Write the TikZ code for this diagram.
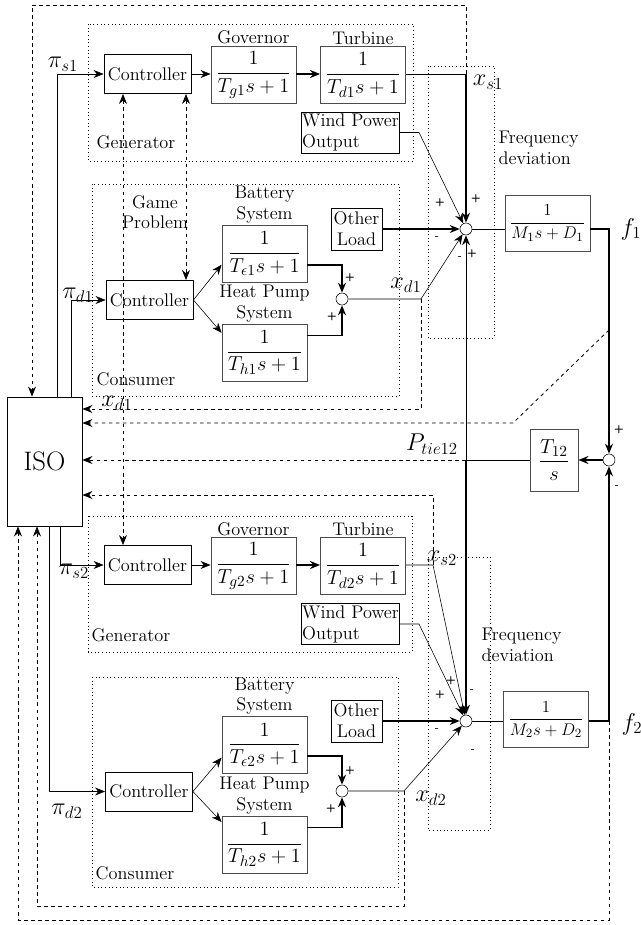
\documentclass[tikz,border=0pt]{standalone}
\usepackage{amsmath,amssymb}
\usepackage{tikz}
\usetikzlibrary{positioning,arrows.meta}

\begin{document}
\begin{tikzpicture}[
  x=0.025cm, y=-0.025cm,
  ctrl/.style={rectangle, draw, semithick, minimum width=2.175cm, minimum height=0.975cm, inner sep=0pt, font=\fontsize{13}{15}\selectfont},
  tf/.style={rectangle, draw=black!70, semithick, minimum width=2.125cm, minimum height=1.425cm, inner sep=0pt, font=\fontsize{15}{18}\selectfont},
  blk/.style={rectangle, draw, semithick, align=center, inner sep=0.5pt, font=\fontsize{13}{15}\selectfont},
  heading/.style={align=center, inner sep=1pt, font=\fontsize{13}{14.5}\selectfont},
  sumc/.style={circle, draw, minimum size=0.3cm, inner sep=0pt},
  region/.style={draw, dotted, semithick},
  sig/.style={font=\footnotesize\sffamily\bfseries, inner sep=0pt},
  lbl/.style={font=\LARGE, inner sep=0pt},
  line/.style={draw, -{Stealth[length=2.5mm, width=2mm]}},
  bline/.style={line, line width=1.2pt},
  info/.style={draw, dash pattern=on 2.5pt off 2.5pt, semithick, -{Stealth[length=2.5mm, width=2mm]}},
  game/.style={info, {Stealth[length=2.5mm, width=2mm]}-{Stealth[length=2.5mm, width=2mm]}}
]
\useasboundingbox (0,0) rectangle (640,925);

  % Regions
  \draw[region] (88,24) rectangle (413,161);
  \draw[region] (92,184) rectangle (399,396);
  \draw[region] (88,516) rectangle (412,652);
  \draw[region] (92,677) rectangle (398,887);
  \draw[region] (428,66) rectangle (494,338);
  \draw[region] (428,557) rectangle (490,830);

  % Area 1
  \node[ctrl] (cs1) at (147.5,74) {Controller};
  \node[tf] (gov1) at (253.5,75) {$\dfrac{1}{T_{g1}s+1}$};
  \node[heading, above=0pt of gov1] (gov1t) {Governor};
  \node[tf] (tur1) at (363,75) {$\dfrac{1}{T_{d1}s+1}$};
  \node[heading, above=0pt of tur1] (tur1t) {Turbine};
  \node[blk, align=left, minimum width=2.425cm, minimum height=1.025cm] (wind1) at (350.5,132.5) {Wind Power\\Output};
  \node[heading, anchor=west] (gen1t) at (95,142) {Generator};

  \node[ctrl] (cd1) at (149.5,300) {Controller};
  \node[tf] (bat1) at (264.5,253.5) {$\dfrac{1}{T_{\epsilon1}s+1}$};
  \node[heading, above=0pt of bat1] (bat1t) {Battery\\System};
  \node[tf] (hp1) at (264.5,352.5) {$\dfrac{1}{T_{h1}s+1}$};
  \node[heading, above=0pt of hp1] (hp1t) {Heat Pump\\System};
  \node[sumc] (sd1) at (342,299) {};
  \node[heading, anchor=west] (con1t) at (95,379) {Consumer};
  \node[heading] (gamet) at (155,212) {Game\\Problem};

  \node[blk, minimum width=1.275cm, minimum height=1.05cm] (load1) at (356.5,229) {Other\\Load};
  \node[sumc] (sum1) at (466,229) {};
  \node[tf, font=\fontsize{13}{16}\selectfont, minimum height=1.4cm] (m1) at (547.5,223) {$\dfrac{1}{M_1s+D_1}$};
  \node[heading, align=left, anchor=west] (fd1t) at (497,148) {Frequency\\deviation};

  % Tie line and ISO
  \node[sumc] (sum3) at (609,460) {};
  \node[tf, minimum width=1.2cm, minimum height=1.55cm] (t12) at (554,460) {$\dfrac{T_{12}}{s}$};
  \node[rectangle, draw, semithick, minimum width=1.875cm, minimum height=3.225cm, font=\fontsize{19}{22}\selectfont] (iso) at (44.5,461.5) {ISO};

  % Area 2
  \node[ctrl] (cs2) at (147.5,565) {Controller};
  \node[tf] (gov2) at (253.5,566) {$\dfrac{1}{T_{g2}s+1}$};
  \node[heading, above=0pt of gov2] (gov2t) {Governor};
  \node[tf] (tur2) at (363,566) {$\dfrac{1}{T_{d2}s+1}$};
  \node[heading, above=0pt of tur2] (tur2t) {Turbine};
  \node[blk, align=left, minimum width=2.425cm, minimum height=1.025cm] (wind2) at (350.5,624) {Wind Power\\Output};
  \node[heading, anchor=west] (gen2t) at (90,635) {Generator};

  \node[ctrl] (cd2) at (149,791.5) {Controller};
  \node[tf] (bat2) at (264.5,745) {$\dfrac{1}{T_{\epsilon2}s+1}$};
  \node[heading, above=0pt of bat2] (bat2t) {Battery\\System};
  \node[tf] (hp2) at (264.5,844.5) {$\dfrac{1}{T_{h2}s+1}$};
  \node[heading, above=0pt of hp2] (hp2t) {Heat Pump\\System};
  \node[sumc] (sd2) at (342,791) {};
  \node[heading, anchor=west] (con2t) at (94,873) {Consumer};

  \node[blk, minimum width=1.275cm, minimum height=1.05cm] (load2) at (356.5,721) {Other\\Load};
  \node[sumc] (sum2) at (466,721) {};
  \node[tf, font=\fontsize{13}{16}\selectfont, minimum height=1.4cm] (m2) at (546,719.5) {$\dfrac{1}{M_2s+D_2}$};
  \node[heading, align=left, anchor=west] (fd2t) at (480,645) {Frequency\\deviation};

  % Signal labels
  \node[lbl] (xs1l) at (488,82) {$x_{s1}$};
  \node[lbl] (xd1l) at (406,285) {$x_{d1}$};
  \node[lbl] (xd1m) at (117,403) {$x_{d1}$};
  \node[lbl] (xs2l) at (442,558) {$x_{s2}$};
  \node[lbl] (xd2l) at (431,798) {$x_{d2}$};
  \node[lbl] (ps1l) at (63,64) {$\pi_{s1}$};
  \node[lbl] (pd1l) at (78,295) {$\pi_{d1}$};
  \node[lbl] (ps2l) at (74,571) {$\pi_{s2}$};
  \node[lbl] (pd2l) at (67,811) {$\pi_{d2}$};
  \node[lbl] (ptl) at (432,444) {$P_{tie12}$};
  \node[lbl] (f1l) at (631,229) {$f_1$};
  \node[lbl] (f2l) at (632,724) {$f_2$};

  % Signs
  \node[sig] (g1a) at (440,203) {+};
  \node[sig] (g1b) at (476,199) {+};
  \node[sig] (g1c) at (437,238) {-};
  \node[sig] (g1d) at (460,258) {-};
  \node[sig] (g1e) at (472,254) {+};
  \node[sig] (g1f) at (350,278) {+};
  \node[sig] (g1g) at (332,317) {+};
  \node[sig] (g3a) at (619,430) {+};
  \node[sig] (g3b) at (617,487) {-};
  \node[sig] (g2a) at (440,695) {+};
  \node[sig] (g2b) at (451,681) {+};
  \node[sig] (g2c) at (472,691) {-};
  \node[sig] (g2d) at (437,730) {-};
  \node[sig] (g2e) at (473,751) {-};
  \node[sig] (g2f) at (350,771) {+};
  \node[sig] (g2g) at (331,809) {+};

  % Corner points
  \coordinate (w1) at (419,132.5);
  \coordinate (xd1) at (421,299);
  \coordinate (d1b) at (421,409);
  \coordinate (top) at (32,5);
  \coordinate (tie) at (t12.west -| sum1);
  \coordinate (f1t) at (609,330);
  \coordinate (f1d) at (513,423);
  \coordinate (xs2) at (433,565);
  \coordinate (s2b) at (433,495);
  \coordinate (w2) at (419,624);
  \coordinate (xd2) at (404,791);
  \coordinate (d2b) at (404,906);
  \coordinate (bot2) at (37,906);
  \coordinate (f2) at (sum3 |- sum2);
  \coordinate (bot1) at (18,920);
  \coordinate (ps1) at (57,397);
  \coordinate (pd1) at (71,397);
  \coordinate (ps2) at (60,526);
  \coordinate (pd2) at (49,526);
  \coordinate (ga) at (123,0);
  \coordinate (gb) at (186,0);

  % Arrows, area 1
  \path[line] (cs1.east) -- (cs1.east -| gov1.west);
  \path[bline] (cs1.east -| gov1.east) -- (cs1.east -| tur1.west);
  \draw (cs1.east -| tur1.east) -- (cs1.east -| sum1);
  \path[bline] (cs1.east -| sum1) -- (sum1.north);
  \path[line] (wind1.east) -- (w1) -- (sum1);
  \path[bline] (load1) -- (sum1);
  \path[line] (cd1.east) -- ([yshift=-8pt]bat1.west);
  \path[line] (cd1.east) -- ([yshift=14pt]hp1.west);
  \path[bline] ([yshift=-8pt]bat1.east) -| (sd1.north);
  \path[bline] ([yshift=12pt]hp1.east) -| (sd1.south);
  \path[line] (sd1.east) -- (xd1) -- (sum1);
  \draw (sum1.east) -- (sum1 -| m1.west);

  % Arrows, tie line
  \path[bline] (sum1 -| m1.east) -| (sum3.north);
  \path[bline] (sum2 -| m2.east) -| (sum3.south);
  \path[bline] (sum3.west) -- (t12.east);
  \draw (t12.west) -- (tie);
  \path[line, semithick] (tie) -- (sum1.south);
  \path[bline] (tie) -- (sum2.north);

  % Arrows, area 2
  \path[line] (cs2.east) -- (cs2.east -| gov2.west);
  \path[bline] (cs2.east -| gov2.east) -- (cs2.east -| tur2.west);
  \path[line] (cs2.east -| tur2.east) -- (xs2) -- (sum2);
  \path[line] (wind2.east) -- (w2) -- (sum2);
  \path[bline] (load2) -- (sum2);
  \path[line] (cd2.east) -- ([yshift=-9pt]bat2.west);
  \path[line] (cd2.east) -- ([yshift=16pt]hp2.west);
  \path[bline] ([yshift=-8pt]bat2.east) -| (sd2.north);
  \path[bline] ([yshift=12pt]hp2.east) -| (sd2.south);
  \path[line] (sd2.east) -- (xd2) -- (sum2);
  \draw (sum2.east) -- (sum2 -| m2.west);

  % Prices from the ISO
  \path[line] (ps1) |- (cs1.west);
  \path[line] (pd1) |- (cd1.west);
  \path[line] (ps2) |- (cs2.west);
  \path[line] (pd2) |- (cd2.west);

  % Measurements to the ISO
  \path[info] (cs1.east -| sum1) -- (top -| sum1) -- (top) -- (top |- iso.north);
  \path[info] (xd1) -- (d1b) -- (d1b -| iso.east);
  \path[info] (f1t) -- (f1d) -- (f1d -| iso.east);
  \path[info] (tie) -- (tie -| iso.east);
  \path[info] (xs2) -- (s2b) -- (s2b -| iso.east);
  \path[info] (xd2) -- (d2b) -- (bot2) -- (bot2 |- iso.south);
  \path[info] (f2) -- (f2 |- bot1) -- (bot1) -- (bot1 |- iso.south);

  % Game problem
  \path[game] (cs1.south -| ga) -- (cs2.north -| ga);
  \path[game] (cs1.south -| gb) -- (cd1.north -| gb);

\end{tikzpicture}
\end{document}
